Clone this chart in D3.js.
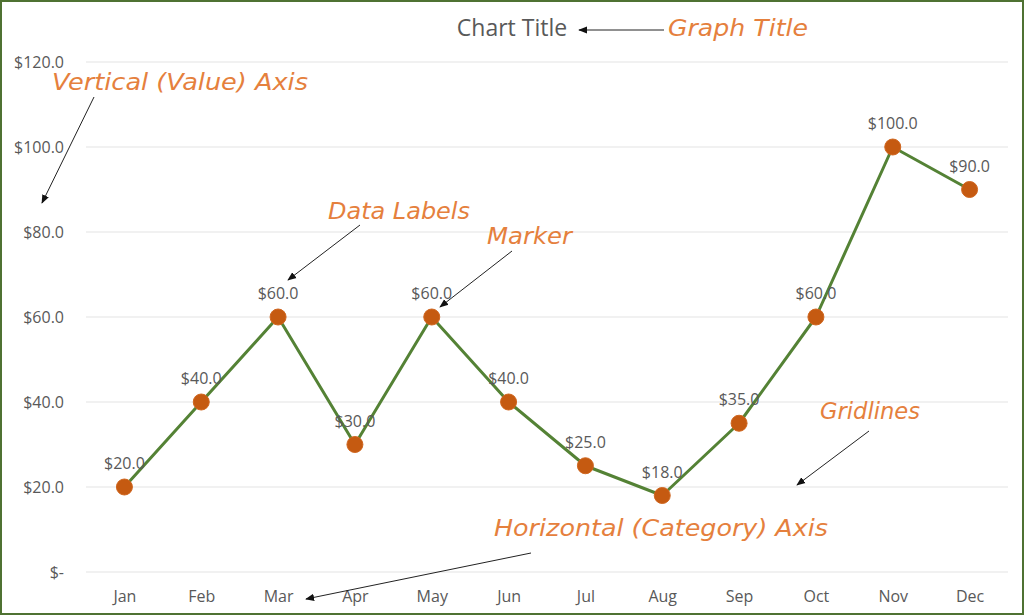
<!DOCTYPE html>
<html>
<head>
<meta charset="utf-8">
<script src="https://cdn.jsdelivr.net/npm/d3@7"></script>
<style>
  html, body { margin: 0; padding: 0; background: #fff; }
  svg { display: block; }
</style>
</head>
<body>
<svg id="chart" width="1024" height="615"></svg>
<script>
const months = ["Jan", "Feb", "Mar", "Apr", "May", "Jun", "Jul", "Aug", "Sep", "Oct", "Nov", "Dec"];
const sales = [20, 40, 60, 30, 60, 40, 25, 18, 35, 60, 100, 90];
const yTicks = [0, 20, 40, 60, 80, 100, 120];

// callout notes: text, text box [x, y, width], arrow [x1, y1, x2, y2]
const notes = [
  { text: "Graph Title", box: [668, 36, 140], arrow: [664, 30, 579, 30] },
  { text: "Vertical (Value) Axis", box: [52, 90, 256], arrow: [94, 97, 42, 203] },
  { text: "Data Labels", box: [328, 219, 142], arrow: [360, 225, 288, 280] },
  { text: "Marker", box: [487, 244, 85], arrow: [512, 251, 440, 307] },
  { text: "Gridlines", box: [820, 419, 100], arrow: [869, 431, 797, 485] },
  { text: "Horizontal (Category) Axis", box: [494, 536, 334], arrow: [531, 553, 306, 599] }
];

(function () {
    const width = 1024;
    const height = 615;
    const margin = { top: 62, right: 16, bottom: 43, left: 86 };

    const svg = d3.select("#chart");

    svg.append("rect")
        .attr("x", 1).attr("y", 1)
        .attr("width", width - 2).attr("height", height - 2)
        .attr("fill", "#fff")
        .attr("stroke", "#4f7232")
        .attr("stroke-width", 2);

    const x = d3.scalePoint()
        .domain(months)
        .range([margin.left, width - margin.right])
        .padding(0.5);

    const y = d3.scaleLinear()
        .domain([0, 120])
        .range([height - margin.bottom, margin.top]);

    const fmt = v => v === 0 ? "$-" : "$" + d3.format(".1f")(v);
    const labelFont = "'Open Sans', 'Liberation Sans', sans-serif";

    // gridlines
    svg.append("g")
        .selectAll("line")
        .data(yTicks)
        .join("line")
        .attr("x1", margin.left)
        .attr("x2", width - margin.right)
        .attr("y1", d => y(d))
        .attr("y2", d => y(d))
        .attr("stroke", "#e3e3e3")
        .attr("stroke-width", 1);

    // value axis
    const yAxis = svg.append("g")
        .attr("transform", `translate(${margin.left - 22},0)`)
        .call(d3.axisLeft(y).tickValues(yTicks).tickFormat(fmt).tickSize(0).tickPadding(0));
    yAxis.select(".domain").remove();

    // category axis
    const xAxis = svg.append("g")
        .attr("transform", `translate(0,${height - margin.bottom + 19})`)
        .call(d3.axisBottom(x).tickSize(0).tickPadding(0));
    xAxis.select(".domain").remove();

    svg.selectAll(".tick text")
        .attr("font-family", labelFont)
        .attr("font-size", 16)
        .attr("fill", "#595959");

    // line
    const line = d3.line()
        .x((d, i) => x(months[i]))
        .y(d => y(d));

    svg.append("path")
        .datum(sales)
        .attr("d", line)
        .attr("fill", "none")
        .attr("stroke", "#548235")
        .attr("stroke-width", 3)
        .attr("stroke-linejoin", "round");

    // markers
    svg.append("g")
        .selectAll("circle")
        .data(sales)
        .join("circle")
        .attr("cx", (d, i) => x(months[i]))
        .attr("cy", d => y(d))
        .attr("r", 8)
        .attr("fill", "#c55a11")
        .attr("stroke", "#d0661f")
        .attr("stroke-width", 1);

    // data labels
    svg.append("g")
        .selectAll("text")
        .data(sales)
        .join("text")
        .attr("x", (d, i) => x(months[i]))
        .attr("y", d => y(d) - 18)
        .attr("text-anchor", "middle")
        .attr("font-family", labelFont)
        .attr("font-size", 16)
        .attr("fill", "#595959")
        .text(fmt);

    // chart title
    svg.append("text")
        .attr("x", 512)
        .attr("y", 36)
        .attr("text-anchor", "middle")
        .attr("font-family", labelFont)
        .attr("font-size", 23)
        .attr("fill", "#595959")
        .text("Chart Title");

    // arrowhead
    svg.append("defs").append("marker")
        .attr("id", "arrow")
        .attr("viewBox", "0 0 10 10")
        .attr("refX", 9).attr("refY", 5)
        .attr("markerWidth", 9).attr("markerHeight", 9)
        .attr("markerUnits", "userSpaceOnUse")
        .attr("orient", "auto")
        .append("path")
        .attr("d", "M0,1 L10,5 L0,9 Z")
        .attr("fill", "#111");

    const noteG = svg.append("g");

    noteG.selectAll("line")
        .data(notes)
        .join("line")
        .attr("x1", d => d.arrow[0]).attr("y1", d => d.arrow[1])
        .attr("x2", d => d.arrow[2]).attr("y2", d => d.arrow[3])
        .attr("stroke", "#222")
        .attr("stroke-width", 1)
        .attr("marker-end", "url(#arrow)");

    noteG.selectAll("text")
        .data(notes)
        .join("text")
        .attr("x", d => d.box[0])
        .attr("y", d => d.box[1])
        .attr("textLength", d => d.box[2])
        .attr("lengthAdjust", "spacingAndGlyphs")
        .attr("font-family", "'Comic Sans MS', 'DejaVu Sans', sans-serif")
        .attr("font-style", "italic")
        .attr("font-size", 23)
        .attr("fill", "#e5803d")
        .text(d => d.text);
})();
</script>
</body>
</html>
